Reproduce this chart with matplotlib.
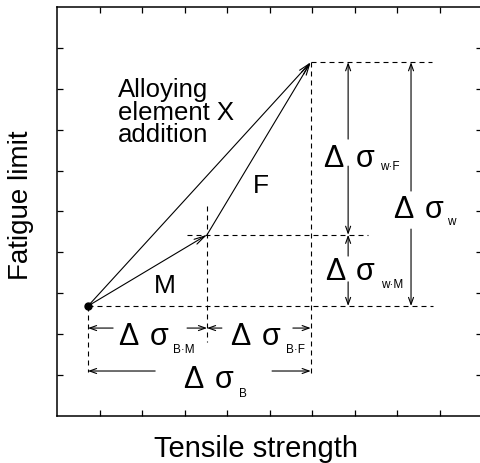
import matplotlib.pyplot as plt

plt.rcParams['font.family'] = ['Liberation Sans', 'DejaVu Sans']

# states: base steel, after matrix (M) strengthening, after ferrite (F) strengthening
tensile = [0.73, 3.53, 5.97]
fatigue = [2.69, 4.43, 8.65]
labels = ['M', 'F']

# levels of the dimension arrows
b_rows = [2.15, 1.10]      # y of the tensile-strength arrows
w_cols = [6.85, 8.33]      # x of the fatigue-limit arrows

fig = plt.figure(figsize=(4.8, 4.64), dpi=100)
ax = fig.add_axes([57 / 480, 47 / 464, 425 / 480, 409 / 464])
ax.set_xlim(0, 10)
ax.set_ylim(0, 10)
ax.set_xticks(range(1, 10))
ax.set_yticks(range(1, 10))
ax.tick_params(direction='in', length=4, width=0.9, top=True, right=True,
               labelbottom=False, labelleft=False)
for sp in ax.spines.values():
    sp.set_linewidth(1.1)

dash = dict(color='black', lw=0.8, ls=(0, (4.5, 3.6)))
x0, x1, x2 = tensile
y0, y1, y2 = fatigue

# guide lines
ax.plot([x0, 8.85], [y0, y0], **dash)
ax.plot([3.06, 7.32], [y1, y1], **dash)
ax.plot([x2, 8.82], [y2, y2], **dash)
ax.plot([x0, x0], [y0, 1.07], **dash)
ax.plot([x1, x1], [5.13, 1.8], **dash)
ax.plot([x2, x2], [y2, 1.05], **dash)


def arrow(start, end, head='->,head_length=0.5,head_width=0.18'):
    ax.annotate('', xy=end, xytext=start,
                arrowprops=dict(arrowstyle=head, color='black', lw=0.8,
                                shrinkA=0, shrinkB=0))


# the two paths from base steel to the alloyed state
big = '->,head_length=0.8,head_width=0.2'
arrow((x0, y0), (x2, y2), big)
arrow((x0, y0), (x1, y1), big)
arrow((x1, y1), (x2, y2), big)
ax.plot(x0, y0, 'o', color='black', ms=5)

for line, yb in zip(['Alloying', 'element X', 'addition'], [7.82, 7.26, 6.72]):
    ax.text(1.44, yb, line, fontsize=18.5, ha='left', va='baseline')
ax.text(2.28, 3.03, labels[0], fontsize=19, ha='left', va='baseline')
ax.text(4.61, 5.48, labels[1], fontsize=19, ha='left', va='baseline')

# tensile strength increments
yb, yb2 = b_rows
arrow((1.32, yb), (x0, yb))
arrow((3.06, yb), (x1, yb))
arrow((3.88, yb), (x1, yb))
arrow((5.55, yb), (x2, yb))
arrow((2.31, yb2), (x0, yb2))
arrow((5.06, yb2), (x2, yb2))

# fatigue limit increments
xw, xw2 = w_cols
arrow((xw, 6.77), (xw, y2))
arrow((xw, 6.11), (xw, y1))
arrow((xw, 3.91), (xw, y1))
arrow((xw, 3.28), (xw, y0))
arrow((xw2, 5.5), (xw2, y2))
arrow((xw2, 4.57), (xw2, y0))


def delta(x, y, xsig, sub, xs, ys):
    ax.text(x, y, 'Δ', fontsize=22, ha='left', va='baseline')
    ax.text(xsig, y, 'σ', fontsize=22, ha='left', va='baseline')
    ax.text(xs, ys, sub, fontsize=8.5, ha='left', va='baseline')


delta(6.26, 6.11, 7.04, 'w·F', 7.6, 6.05)
delta(7.91, 4.87, 8.66, 'w', 9.18, 4.70)
delta(6.31, 3.35, 7.04, 'w·M', 7.62, 3.15)
delta(1.44, 1.76, 2.19, 'B·M', 2.74, 1.56)
delta(4.07, 1.76, 4.82, 'B·F', 5.38, 1.56)
delta(2.96, 0.71, 3.72, 'B', 4.28, 0.49)

fig.text(256 / 480, 1 - 457 / 464, 'Tensile strength', fontsize=21,
         ha='center', va='baseline')
fig.text(21 / 480, 1 - 205 / 464, 'Fatigue limit', fontsize=20,
         ha='center', va='center', rotation=90)

fig.savefig('out.png', dpi=100)
